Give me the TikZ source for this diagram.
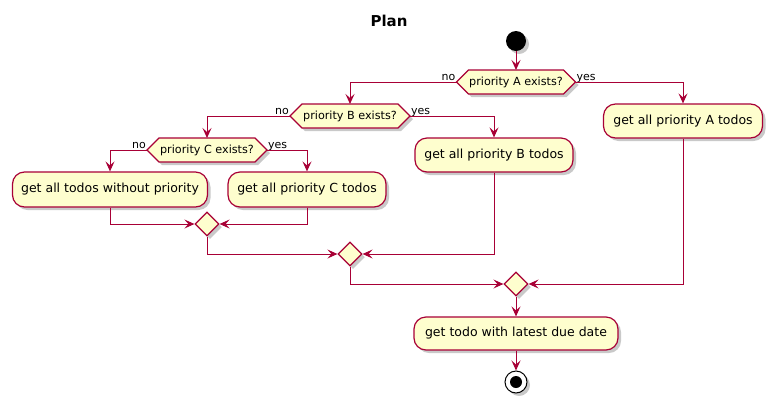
\documentclass[tikz,border=0pt]{standalone}
\usepackage{fontspec}
\setmainfont{DejaVu Sans}
\usetikzlibrary{arrows.meta,shadows,shapes.geometric}
\definecolor{pborder}{HTML}{A80036}
\definecolor{pfill}{HTML}{FEFECE}
\newcommand\myhex[5]{% name, cx, cy, half flat width, text
  \path[hexa] (#2-#4-12,#3) -- (#2-#4,#3-12) -- (#2+#4,#3-12) -- (#2+#4+12,#3) -- (#2+#4,#3+12) -- (#2-#4,#3+12) -- cycle;
  \node[htext] (#1) at (#2,#3) {#5};
  \coordinate (#1w) at (#2-#4-12,#3);
  \coordinate (#1e) at (#2+#4+12,#3);
  \coordinate (#1n) at (#2,#3-12);
}
\begin{document}
\begin{tikzpicture}[x=1pt,y=-1pt,
  shd/.style={drop shadow={shadow xshift=3pt,shadow yshift=-3pt,opacity=0.3,fill=black!70}},
  act/.style={draw=pborder,fill=pfill,line width=1.2pt,rounded corners=12pt,minimum height=34pt,inner sep=0pt,font=\fontsize{12.5}{14}\selectfont,shd},
  hexa/.style={draw=pborder,fill=pfill,line width=1.2pt,shd},
  htext/.style={font=\fontsize{11.2}{13}\selectfont,inner sep=0pt},
  lbl/.style={font=\fontsize{11}{13}\selectfont,inner sep=1pt},
  flow/.style={draw=pborder,line width=1pt,-{Stealth[length=10pt,width=9pt,inset=4pt]}},
  merge/.style={diamond,aspect=1,draw=pborder,fill=pfill,line width=1.2pt,minimum width=24pt,minimum height=24pt,inner sep=0pt,shd}
]
\useasboundingbox (0,0) rectangle (777,408);
\node[font=\bfseries\fontsize{15}{17}\selectfont] (title) at (389,21) {Plan};
\node[circle,fill=black,minimum size=20pt,inner sep=0pt,shd] (start) at (516,41) {};

\myhex{A}{516}{82}{47.5}{priority A exists?}
\myhex{B}{350}{116}{48}{priority B exists?}
\myhex{C}{207}{150}{48}{priority C exists?}

\node[act,minimum width=159pt] (actA) at (683,121) {get all priority A todos};
\node[act,minimum width=158pt] (actB) at (494,155) {get all priority B todos};
\node[act,minimum width=195pt,minimum height=35pt] (actN) at (110,189.5) {get all todos without priority};
\node[act,minimum width=158pt,minimum height=35pt] (actC) at (307,189.5) {get all priority C todos};

\node[merge] (mC) at (207,224) {};
\node[merge] (mB) at (350,254) {};
\node[merge] (mA) at (516,284) {};

\node[act,minimum width=204pt,minimum height=33pt] (final) at (516,333.5) {get todo with latest due date};
\node[circle,draw=black,fill=white,line width=1pt,minimum size=22pt,inner sep=0pt,shd] (end) at (516,382) {};
\node[circle,fill=black,minimum size=12pt,inner sep=0pt] (endin) at (end) {};

\node[lbl,anchor=base east,yshift=2pt] (lAno) at (Aw) {no};
\node[lbl,anchor=base west,yshift=2pt] (lAyes) at (Ae) {yes};
\node[lbl,anchor=base east,yshift=2pt] (lBno) at (Bw) {no};
\node[lbl,anchor=base west,yshift=2pt] (lByes) at (Be) {yes};
\node[lbl,anchor=base east,yshift=2pt] (lCno) at (Cw) {no};
\node[lbl,anchor=base west,yshift=2pt] (lCyes) at (Ce) {yes};

\draw[flow] (start) -- (An);
\draw[flow] (Aw) -| (Bn);
\draw[flow] (Ae) -| (actA.north);
\draw[flow] (Bw) -| (Cn);
\draw[flow] (Be) -| (actB.north);
\draw[flow] (Cw) -| (actN.north);
\draw[flow] (Ce) -| (actC.north);
\draw[flow] (actN.south) |- (mC.west);
\draw[flow] (actC.south) |- (mC.east);
\draw[flow] (mC.south) |- (mB.west);
\draw[flow] (actB.south) |- (mB.east);
\draw[flow] (mB.south) |- (mA.west);
\draw[flow] (actA.south) |- (mA.east);
\draw[flow] (mA.south) -- (final.north);
\draw[flow] (final.south) -- (end);
\end{tikzpicture}
\end{document}
